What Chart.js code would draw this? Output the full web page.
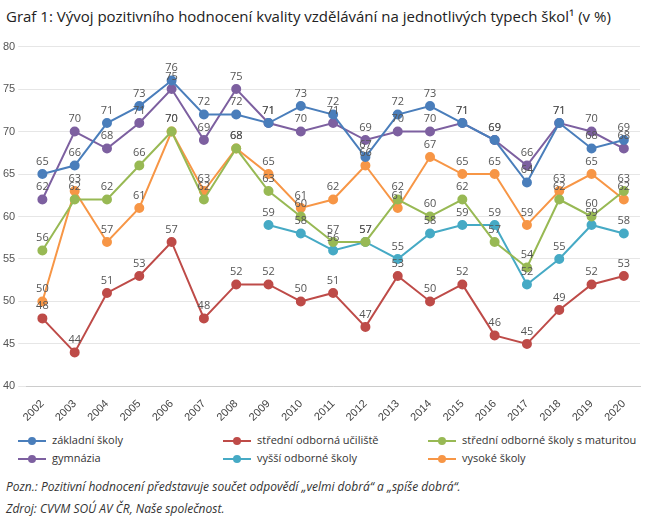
<!DOCTYPE html>
<html><head><meta charset="utf-8">
<script src="https://cdn.jsdelivr.net/npm/chart.js@4"></script>
<style>
body{margin:0;background:#fff;font-family:"Open Sans",sans-serif;width:656px;height:522px;overflow:hidden}
#title{position:absolute;left:6px;top:6px;font-size:15px;color:#222;font-weight:500}
#wrap{position:absolute;left:0;top:37px;width:650px;height:390px}
#legend{position:absolute;left:18px;top:432px;width:640px;font-size:11px;color:#333}
.li{position:absolute;white-space:nowrap}
.li span{display:inline-block;width:28px;height:2px;vertical-align:middle;margin-right:6px;position:relative}
.li span i{position:absolute;left:10px;top:-3px;width:8px;height:8px;border-radius:50%}
#notes{position:absolute;left:6px;top:476px;font-size:12px;font-style:italic;color:#333;line-height:22px}
</style></head><body>
<div id="title">Graf 1: Vývoj pozitivního hodnocení kvality vzdělávání na jednotlivých typech škol¹ (v %)</div>
<div id="wrap"><canvas id="c"></canvas></div>
<div id="legend"></div>
<div id="notes">Pozn.: Pozitivní hodnocení představuje součet odpovědí „velmi dobrá“ a „spíše dobrá“.<br>Zdroj: CVVM SOÚ AV ČR, Naše společnost.</div>
<script>
const years=["2002","2003","2004","2005","2006","2007","2008","2009","2010","2011","2012","2013","2014","2015","2016","2017","2018","2019","2020"];
const zakladni=[65,66,71,73,76,72,72,71,73,72,67,72,73,71,69,64,71,68,69];
const sou=[48,44,51,53,57,48,52,52,50,51,47,53,50,52,46,45,49,52,53];
const sosMat=[56,62,62,66,70,62,68,63,60,57,57,62,60,62,57,54,62,60,63];
const gymnazia=[62,70,68,71,75,69,75,71,70,71,69,70,70,71,69,66,71,70,68];
const vos=[null,null,null,null,null,null,null,59,58,56,57,55,58,59,59,52,55,59,58];
const vysoke=[50,63,57,61,70,63,68,65,61,62,66,61,67,65,65,59,63,65,62];
const names=["základní školy","střední odborná učiliště","střední odborné školy s maturitou","gymnázia","vyšší odborné školy","vysoké školy"];
const colors=["#4a7ebb","#be4b48","#98b954","#7d60a0","#46aac5","#f79646"];
const series=[zakladni,sou,sosMat,gymnazia,vos,vysoke];
const datasets=series.map((d,i)=>({label:names[i],data:d,borderColor:colors[i],backgroundColor:colors[i],borderWidth:2,pointRadius:4,pointHoverRadius:4,tension:0,spanGaps:false}));
const labelPlugin={id:'lbl',afterDatasetsDraw(ch){const ctx=ch.ctx;ctx.save();ctx.font='11px "Open Sans"';ctx.fillStyle='#555';ctx.textAlign='center';ctx.textBaseline='bottom';
ch.data.datasets.forEach((ds,i)=>{ch.getDatasetMeta(i).data.forEach((p,j)=>{const v=ds.data[j];if(v==null)return;ctx.fillText(v,p.x,p.y-7);});});ctx.restore();}};
new Chart(document.getElementById('c'),{type:'line',data:{labels:years,datasets},
options:{responsive:true,maintainAspectRatio:false,animation:false,layout:{padding:{right:10,top:6}},
plugins:{legend:{display:false},tooltip:{enabled:false}},
scales:{y:{min:40,max:80,ticks:{stepSize:5,color:'#555',font:{size:11}},grid:{color:'#e6e6e6'},border:{display:false}},
x:{offset:true,grid:{display:false},border:{color:'#ccc'},ticks:{color:'#444',font:{size:11},maxRotation:45,minRotation:45}}}},plugins:[labelPlugin]});
const lg=document.getElementById('legend');
const pos=[[0,0],[205,0],[410,0],[0,18],[205,18],[410,18]];
names.forEach((n,i)=>{const d=document.createElement('div');d.className='li';d.style.left=pos[i][0]+'px';d.style.top=pos[i][1]+'px';
d.innerHTML=`<span style="background:${colors[i]}"><i style="background:${colors[i]}"></i></span>${n}`;lg.appendChild(d);});
</script></body></html>
